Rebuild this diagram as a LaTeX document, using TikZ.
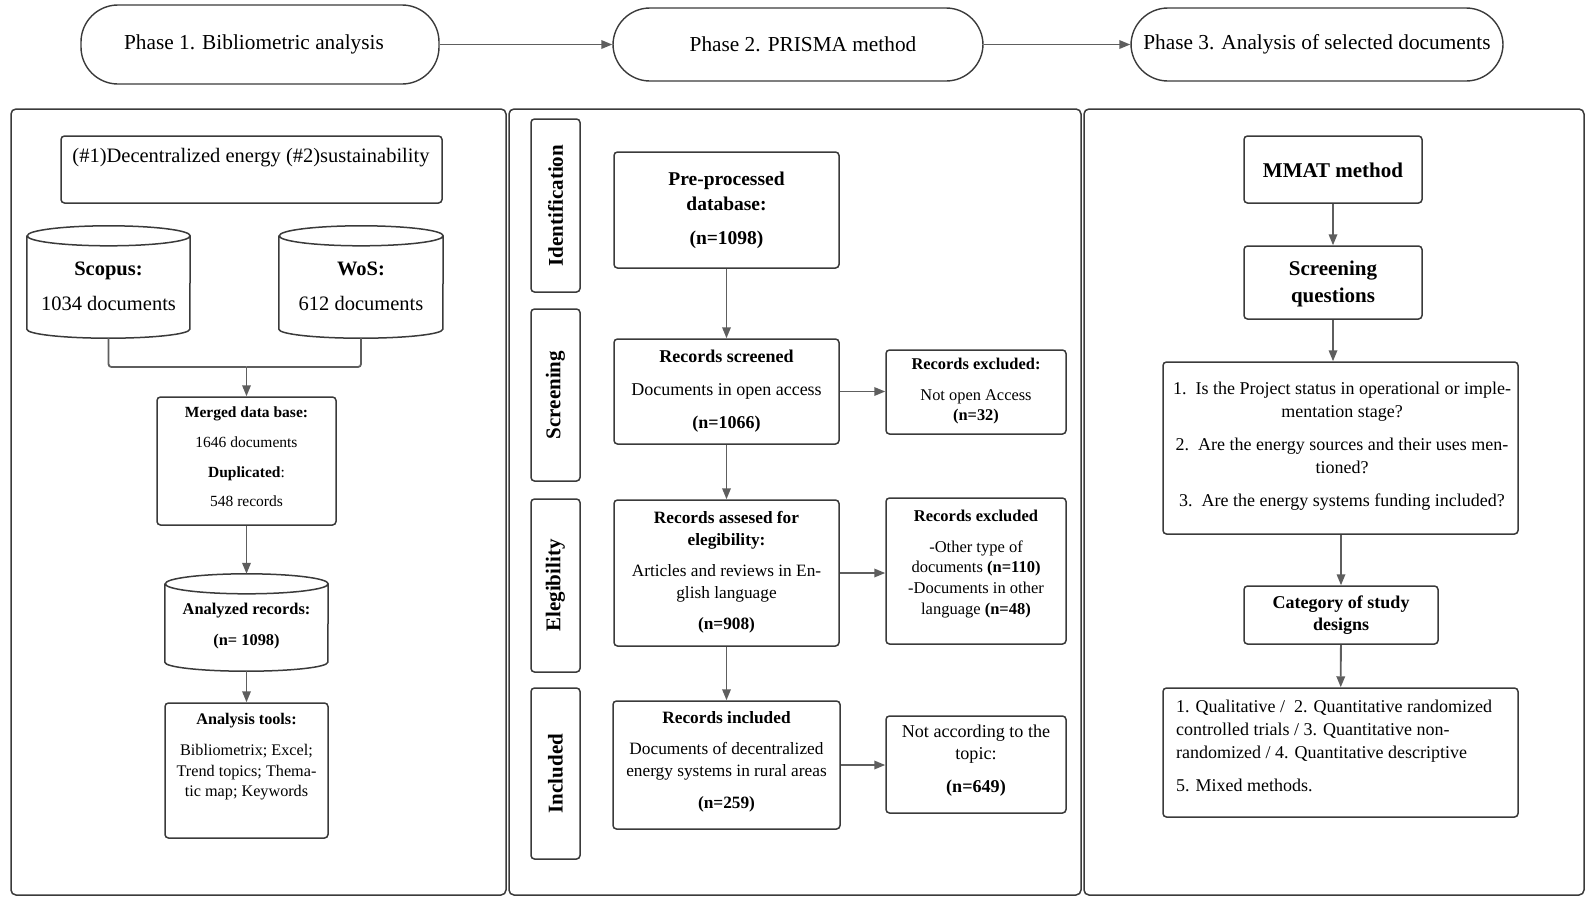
\documentclass[tikz,border=0pt]{standalone}
\usepackage{fontspec}
\setmainfont{Liberation Serif}
\usetikzlibrary{arrows.meta,calc}
\definecolor{boxc}{HTML}{3A3A3A}
\definecolor{arrc}{HTML}{5E5E5E}
\newcommand\fs[2]{\fontsize{#1}{#2}\selectfont}
\newcommand\mkbox[6][]{\node[bx,#1,minimum width={#5-#3},minimum height={#6-#4}] (#2) at ({(#3+#5)/2},{(#4+#6)/2}) {};}
\newcommand\mkcyl[6]{%
  \node[inner sep=0,minimum width=#4,minimum height=#5] (#1) at (#2,#3) {};
  \draw[cyl] ([yshift=-10pt]#1.north west) -- ([yshift=9pt]#1.south west)
    arc[start angle=180,end angle=360,x radius=#6pt,y radius=9pt]
    -- ([yshift=-10pt]#1.north east)
    arc[start angle=0,end angle=360,x radius=#6pt,y radius=10pt];}
\tikzset{
  bx/.style={draw=boxc,line width=1.5,rounded corners=3.5,inner sep=0},
  panel/.style={bx,rounded corners=5},
  cyl/.style={draw=boxc,line width=1.5},
  phase/.style={draw=boxc,line width=1.4,rounded corners=37,inner sep=0,font=\fs{21.3}{25}},
  stage/.style={rotate=90,font=\bfseries\fs{21}{25}},
  arr/.style={draw=arrc,line width=1.8,-{Triangle[length=11pt,width=8.5pt]}},
  ln/.style={draw=arrc,line width=1.8,rounded corners=3},
  txt/.style={align=center,inner sep=0}
}
\begin{document}
\begin{tikzpicture}[x=1pt,y=-1pt]
\useasboundingbox (0,0) rectangle (1595,903);
% phases
\node[phase,minimum width=358,minimum height=79] (p1) at (260,44.5) {Phase 1. Bibliometric analysis\kern12pt};
\node[phase,minimum width=370,minimum height=73] (p2) at (798,44.5) {\hspace{10pt}Phase 2. PRISMA method};
\node[phase,minimum width=372,minimum height=73] (p3) at (1317,44.5) {Phase 3. Analysis of selected documents};
\draw[arr] (p1) -- (p2);
\draw[arr] (p2) -- (p3);
% panels
\mkbox[panel]{P1}{11}{109}{506}{895}
\mkbox[panel]{P2}{509}{109}{1081}{895}
\mkbox[panel]{P3}{1084}{109}{1584}{895}
% ---------- left panel
\mkbox{query}{61}{136}{442}{203}
\node[txt,font=\fs{20.5}{24}] (tq) at (251,158) {(\#1)Decentralized energy (\#2)sustainability};
\mkcyl{scopus}{108.5}{282}{163}{112}{81.5}
\node[txt,font=\fs{20.5}{35}] (ts) at (108.5,286) {\textbf{Scopus:}\\1034 documents};
\mkcyl{wos}{361}{282}{164}{112}{82}
\node[txt,font=\fs{20.5}{35}] (tw) at (361,286) {\textbf{WoS:}\\612 documents};
\mkbox{merged}{157}{397}{336}{525}
\node[txt,font=\fs{15.5}{29.7}] (tm) at (246.5,457) {\textbf{Merged data base:}\\1646 documents\\\textbf{Duplicated}:\\548 records};
\coordinate (j) at (246.5,367);
\draw[ln] (scopus.south) |- (j);
\draw[ln] (wos.south) |- (j);
\draw[arr] (j) -- (merged.north);
\mkcyl{analyzed}{246.5}{622.5}{163}{97}{81.5}
\node[txt,font=\bfseries\fs{16.4}{31}] (ta) at (246.5,626) {Analyzed records:\\(n= 1098)};
\draw[arr] (merged.south) -- (analyzed.north);
\mkbox{tools}{165}{703}{328}{838}
\node[txt,font=\fs{16.2}{20.5}] (tt) at (246.5,757) {\textbf{Analysis tools:}\\[10.5pt]Bibliometrix; Excel;\\Trend topics; Thema-\\tic map; Keywords};
\draw[arr] (analyzed.south) -- (tools.north);
% ---------- middle panel
\mkbox{sid}{531}{119}{580}{292}
\mkbox{sscr}{531}{309}{580}{481}
\mkbox{seli}{531}{499}{580}{672}
\mkbox{sinc}{531}{688}{580}{859}
\node[stage] (lid) at (sid) {Identification};
\node[stage] (lscr) at (sscr) {Screening};
\node[stage] (leli) at (seli) {Elegibility};
\node[stage] (linc) at (sinc) {Included};
\mkbox{prep}{614}{152}{839}{268}
\node[txt,font=\bfseries\fs{19.5}{25}] (tp) at (726.5,210) {Pre-processed\\database:\\[9pt](n=1098)};
\mkbox{scr}{614}{339}{839}{444}
\node[txt,font=\fs{18}{33}] (tsc) at (726.5,391) {\textbf{Records screened}\\Documents in open access\\\textbf{(n=1066)}};
\mkbox{ex1}{886}{350}{1066}{434}
\node[txt,font=\fs{16.4}{20}] (te1) at (976,391.5) {\textbf{Records excluded:}\\[11pt]Not open Access\\\textbf{(n=32)}};
\mkbox{ass}{614}{500}{839}{646}
\node[txt,font=\fs{17.3}{22}] (tas) at (726.5,572) {\textbf{Records assesed for}\\\textbf{elegibility:}\\[9pt]Articles and reviews in En-\\glish language\\[9pt]\textbf{(n=908)}};
\mkbox{ex2}{886}{498}{1066}{644}
\node[txt,font=\fs{16.5}{20.7}] (te2) at (976,564) {\textbf{Records excluded}\\[10pt]-Other type of\\documents \textbf{(n=110)}\\-Documents in other\\language \textbf{(n=48)}};
\mkbox{inc}{613}{701}{840}{829}
\node[txt,font=\fs{17.3}{22}] (ti) at (726.5,761.5) {\textbf{Records included}\\[9pt]Documents of decentralized\\energy systems in rural areas\\[10pt]\textbf{(n=259)}};
\mkbox{nac}{886}{716}{1066}{813}
\node[txt,font=\fs{18.1}{22}] (tn) at (976,761) {Not according to the\\topic:\\[11pt]\textbf{(n=649)}};
\draw[arr] (prep) -- (scr);
\draw[arr] (scr) -- (ass);
\draw[arr] (ass) -- (inc);
\draw[arr] (scr.east) -- (ex1.west |- scr.east);
\draw[arr] (ass.east) -- (ex2.west |- ass.east);
\draw[arr] (inc.east) -- (nac.west |- inc.east);
% ---------- right panel
\mkbox{mmat}{1244}{136}{1422}{203}
\node[txt,font=\bfseries\fs{21}{27}] (tmm) at (1333,170) {MMAT method};
\mkbox{sq}{1244}{246}{1422}{319}
\node[txt,font=\bfseries\fs{21}{27}] (tsq) at (1333,284) {Screening\\questions};
\mkbox{ques}{1163}{362}{1518}{534}
\node[txt,font=\fs{18}{23}] (tqq) at (1342,446) {1.\ \ Is the Project status in operational or imple-\\mentation stage?\\[10pt]2.\ \ Are the energy sources and their uses men-\\tioned?\\[10pt]3.\ \ Are the energy systems funding included?};
\mkbox{cat}{1244}{586}{1438}{644}
\node[txt,font=\bfseries\fs{18}{22}] (tc) at (1341,615.5) {Category of study\\designs};
\mkbox{fin}{1163}{688}{1518}{817}
\node[align=left,inner sep=0,anchor=west,font=\fs{18}{23}] (tf) at (1176,746) {1. Qualitative /\ \ 2. Quantitative randomized\\controlled trials / 3. Quantitative non-\\randomized / 4. Quantitative descriptive\\[10pt]5. Mixed methods.};
\draw[arr] (mmat) -- (sq);
\draw[arr] (sq.south) -- (sq.south |- ques.north);
\draw[arr] (cat.north |- ques.south) -- (cat.north);
\draw[arr] (cat) -- (fin);
\end{tikzpicture}
\end{document}
